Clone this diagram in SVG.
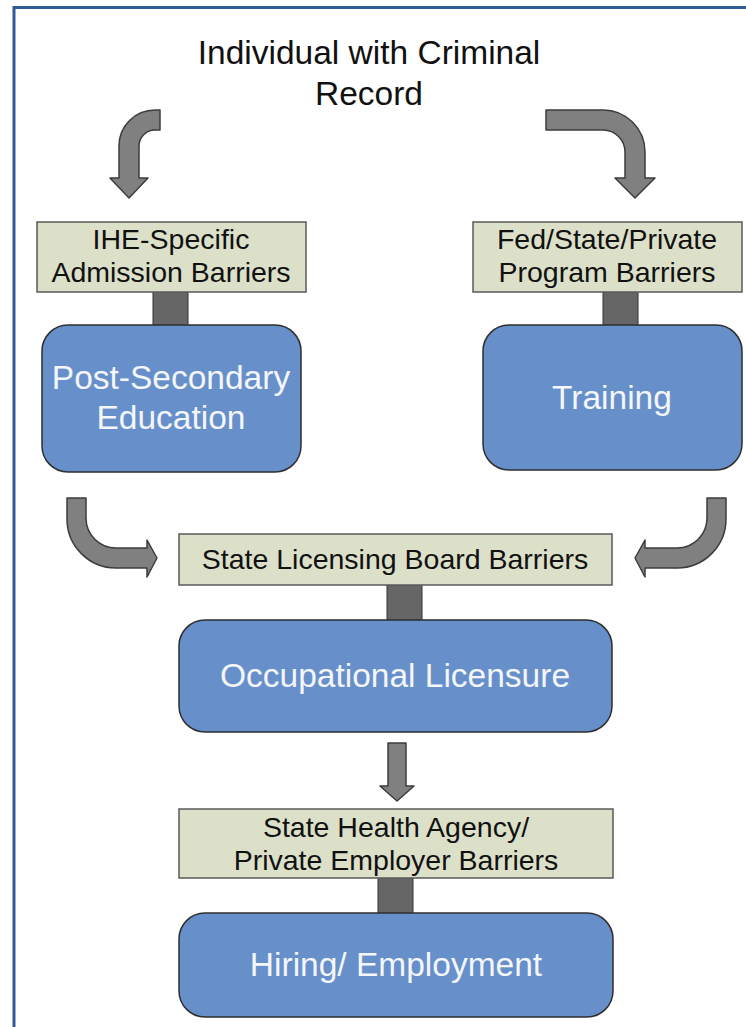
<svg xmlns="http://www.w3.org/2000/svg" width="746" height="1027" viewBox="0 0 746 1027">
<style>
.bg{fill:#ffffff}
.frame{fill:none;stroke:#2F5B97;stroke-width:3}
.barrier{fill:#DCE0C9;stroke:#5a5a5a;stroke-width:1.5}
.node{fill:#6790CA;stroke:#2e2e2e;stroke-width:1.5}
.stub{fill:#666666;stroke:#333333;stroke-width:1}
.arrow{fill:#808080;stroke:#3c3c3c;stroke-width:1.5;stroke-linejoin:round}
.t{font-family:"Liberation Sans",Arial,sans-serif;text-anchor:middle}
.title{font-size:33.5px;fill:#111}
.bt{font-size:28.5px;fill:#111}
.nt{font-size:33.5px;fill:#F4F6FA}
</style>
<rect class="bg" x="0" y="0" width="746" height="1027"/>
<path class="frame" d="M14,1030 V7.5 H750"/>

<g id="title">
<text class="t title" x="369" y="64">Individual with Criminal</text>
<text class="t title" x="369" y="105">Record</text>
</g>

<g id="connectors">
<path class="arrow" d="M155,110 H160 V130 H155 A16,16 0 0 0 139,146 V178 H148 L129,198 L110,178 H119 V146 A36,36 0 0 1 155,110 Z"/>
<path class="arrow" d="M546,110 H603 A42,42 0 0 1 645,152 V178 H655 L635,198 L615,178 H625 V152 A22,22 0 0 0 603,130 H546 Z"/>
<path class="arrow" d="M67,498 H86 V518 A30,30 0 0 0 116,548 H147 V540 L157,558 L147,577 V568 H116 A49,49 0 0 1 67,519 Z"/>
<path class="arrow" d="M707,498 H726 V519 A49,49 0 0 1 677,568 H645 V577 L635,558 L645,540 V548 H677 A30,30 0 0 0 707,518 Z"/>
<path class="arrow" d="M388,743 H406 V786 H414 L397,801 L380,786 H388 Z"/>
<rect class="stub" x="153" y="291" width="35" height="35"/>
<rect class="stub" x="603" y="291" width="35" height="35"/>
<rect class="stub" x="387" y="584" width="35" height="37"/>
<rect class="stub" x="378" y="877" width="35" height="37"/>
</g>

<g id="ihe-barriers">
<rect class="barrier" x="37" y="222" width="269" height="70"/>
<text class="t bt" x="171" y="249">IHE-Specific</text>
<text class="t bt" x="171" y="282">Admission Barriers</text>
</g>

<g id="program-barriers">
<rect class="barrier" x="473" y="222" width="269" height="70"/>
<text class="t bt" x="607" y="249">Fed/State/Private</text>
<text class="t bt" x="607" y="282">Program Barriers</text>
</g>

<g id="post-secondary">
<rect class="node" x="42" y="325" width="259" height="147" rx="26"/>
<text class="t nt" x="171" y="389">Post-Secondary</text>
<text class="t nt" x="171" y="429">Education</text>
</g>

<g id="training">
<rect class="node" x="483" y="325" width="259" height="145" rx="26"/>
<text class="t nt" x="612" y="409">Training</text>
</g>

<g id="licensing-barriers">
<rect class="barrier" x="179" y="534" width="433" height="51"/>
<text class="t bt" x="395" y="569">State Licensing Board Barriers</text>
</g>

<g id="occupational-licensure">
<rect class="node" x="179" y="620" width="433" height="112" rx="26"/>
<text class="t nt" x="395" y="687">Occupational Licensure</text>
</g>

<g id="employer-barriers">
<rect class="barrier" x="179" y="809" width="434" height="69"/>
<text class="t bt" x="396" y="837">State Health Agency/</text>
<text class="t bt" x="396" y="870">Private Employer Barriers</text>
</g>

<g id="hiring">
<rect class="node" x="179" y="913" width="434" height="104" rx="26"/>
<text class="t nt" x="396" y="976">Hiring/ Employment</text>
</g>
</svg>
